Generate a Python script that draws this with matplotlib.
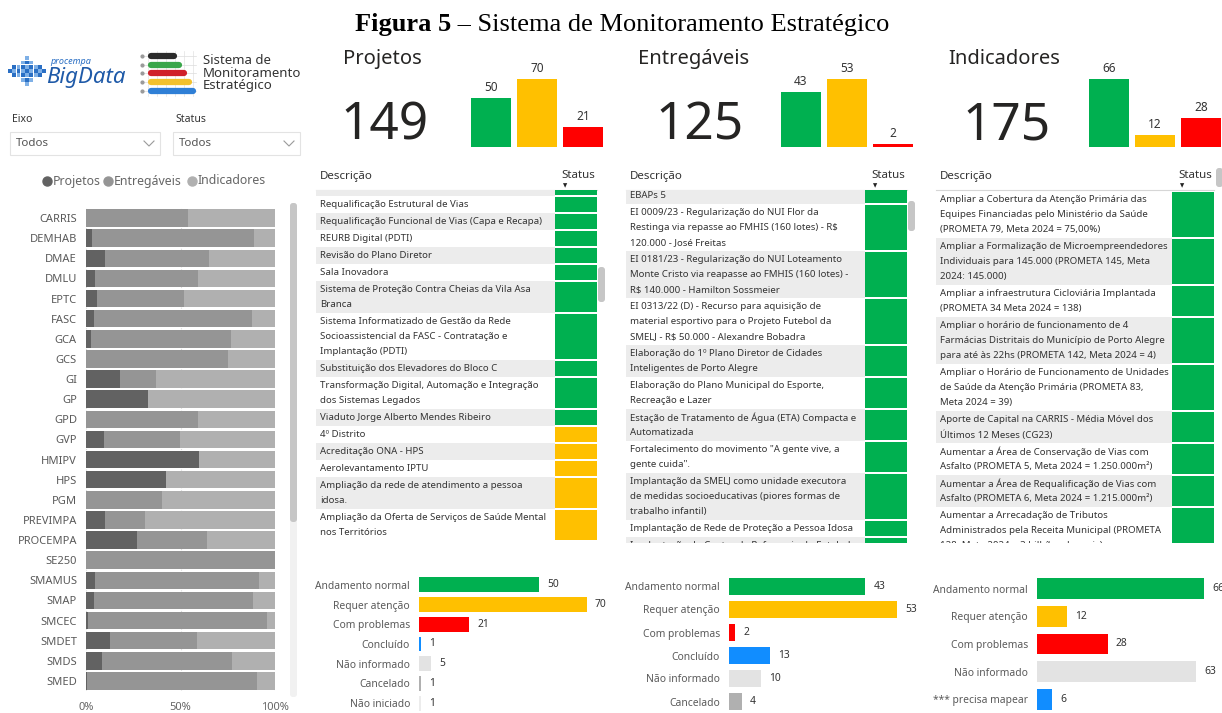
import matplotlib.pyplot as plt
from matplotlib.patches import Rectangle, FancyBboxPatch

plt.rcParams["font.family"] = ["Noto Sans", "DejaVu Sans"]

W, H = 1222, 713

GREEN = "#00b050"
YELLOW = "#ffc000"
RED = "#ff0000"
BLUE = "#118dff"
TXT = "#333333"
LBL = "#5a5a5a"

# ---- data -----------------------------------------------------------------
orgaos = ["CARRIS", "DEMHAB", "DMAE", "DMLU", "EPTC", "FASC", "GCA", "GCS",
          "GI", "GP", "GPD", "GVP", "HMIPV", "HPS", "PGM", "PREVIMPA",
          "PROCEMPA", "SE250", "SMAMUS", "SMAP", "SMCEC", "SMDET", "SMDS",
          "SMED"]
pct_projetos = [0, 3, 10, 5, 6, 4, 2.5, 0, 18, 33, 0, 9.5, 60, 42.5, 0, 10,
                27, 0, 4.6, 4.2, 1.2, 12.5, 8.3, 0.7]
pct_entregaveis = [54, 86, 55, 54, 46, 84, 74, 75, 19, 0, 59, 40, 0, 0, 40,
                   21, 37, 100, 87, 84, 94.6, 46, 69, 89.6]
pct_indicadores = [46, 11, 35, 41, 48, 12, 23.5, 25, 63, 67, 41, 50.5, 40,
                   57.5, 60, 69, 36, 0, 8.4, 11.8, 4.2, 41.5, 22.7, 9.7]

kpi_titles = ["Projetos", "Entregáveis", "Indicadores"]
kpi_totals = [149, 125, 175]
kpi_proj = [50, 70, 21]
kpi_entr = [43, 53, 2]
kpi_ind = [66, 12, 28]

st_proj_labels = ["Andamento normal", "Requer atenção", "Com problemas",
                  "Concluído", "Não informado", "Cancelado", "Não iniciado"]
st_proj_values = [50, 70, 21, 1, 5, 1, 1]
st_entr_labels = ["Andamento normal", "Requer atenção", "Com problemas",
                  "Concluído", "Não informado", "Cancelado"]
st_entr_values = [43, 53, 2, 13, 10, 4]
st_ind_labels = ["Andamento normal", "Requer atenção", "Com problemas",
                 "Não informado", "*** precisa mapear"]
st_ind_values = [66, 12, 28, 63, 6]

status_colors = {"Andamento normal": GREEN, "Requer atenção": YELLOW,
                 "Com problemas": RED, "Concluído": BLUE,
                 "Não informado": "#e3e3e3", "Cancelado": "#b0b0b0",
                 "Não iniciado": "#ececec", "*** precisa mapear": BLUE}

proj_desc = [
    "",
    "Requalificação Estrutural de Vias",
    "Requalificação Funcional de Vias (Capa e Recapa)",
    "REURB Digital (PDTI)",
    "Revisão do Plano Diretor",
    "Sala Inovadora",
    "Sistema de Proteção Contra Cheias da Vila Asa\nBranca",
    "Sistema Informatizado de Gestão da Rede\nSocioassistencial da FASC - Contratação e\nImplantação (PDTI)",
    "Substituição dos Elevadores do Bloco C",
    "Transformação Digital, Automação e Integração\ndos Sistemas Legados",
    "Viaduto Jorge Alberto Mendes Ribeiro",
    "4º Distrito",
    "Acreditação ONA - HPS",
    "Aerolevantamento IPTU",
    "Ampliação da rede de atendimento a pessoa\nidosa.",
    "Ampliação da Oferta de Serviços de Saúde Mental\nnos Territórios",
]
proj_status = ["g", "g", "g", "g", "g", "g", "g", "g", "g", "g", "g",
               "y", "y", "y", "y", "y"]

entr_desc = [
    "EBAPs 5",
    "EI 0009/23 - Regularização do NUI Flor da\nRestinga via repasse ao FMHIS (160 lotes) - R$\n120.000 - José Freitas",
    "EI 0181/23 - Regularização do NUI Loteamento\nMonte Cristo via reapasse ao FMHIS (160 lotes) -\nR$ 140.000 - Hamilton Sossmeier",
    "EI 0313/22 (D) - Recurso para aquisição de\nmaterial esportivo para o Projeto Futebol da\nSMELJ - R$ 50.000 - Alexandre Bobadra",
    "Elaboração do 1º Plano Diretor de Cidades\nInteligentes de Porto Alegre",
    "Elaboração do Plano Municipal do Esporte,\nRecreação e Lazer",
    "Estação de Tratamento de Água (ETA) Compacta e\nAutomatizada",
    "Fortalecimento do movimento \"A gente vive, a\ngente cuida\".",
    "Implantação da SMELJ como unidade executora\nde medidas socioeducativas (piores formas de\ntrabalho infantil)",
    "Implantação de Rede de Proteção a Pessoa Idosa",
    "Implantação do Centro de Referencia do Futebol",
]
entr_status = ["g"] * 11

ind_desc = [
    "Ampliar a Cobertura da Atenção Primária das\nEquipes Financiadas pelo Ministério da Saúde\n(PROMETA 79, Meta 2024 = 75,00%)",
    "Ampliar a Formalização de Microempreendedores\nIndividuais para 145.000 (PROMETA 145, Meta\n2024: 145.000)",
    "Ampliar a infraestrutura Cicloviária Implantada\n(PROMETA 34 Meta 2024 = 138)",
    "Ampliar o horário de funcionamento de 4\nFarmácias Distritais do Município de Porto Alegre\npara até às 22hs (PROMETA 142, Meta 2024 = 4)",
    "Ampliar o Horário de Funcionamento de Unidades\nde Saúde da Atenção Primária (PROMETA 83,\nMeta 2024 = 39)",
    "Aporte de Capital na CARRIS - Média Móvel dos\nÚltimos 12 Meses (CG23)",
    "Aumentar a Área de Conservação de Vias com\nAsfalto (PROMETA 5, Meta 2024 = 1.250.000m²)",
    "Aumentar a Área de Requalificação de Vias com\nAsfalto (PROMETA 6, Meta 2024 = 1.215.000m²)",
    "Aumentar a Arrecadação de Tributos\nAdministrados pela Receita Municipal (PROMETA\n128, Meta 2024 = 3 bilhões de reais)",
]
ind_status = ["g"] * 9

# ---- figure ---------------------------------------------------------------
fig = plt.figure(figsize=(W / 100, H / 100), dpi=100)
fig.patch.set_facecolor("white")
canvas = fig.add_axes([0, 0, 1, 1])
canvas.set_xlim(0, W)
canvas.set_ylim(H, 0)
canvas.axis("off")


def px_axes(x0, y0, x1, y1):
    return fig.add_axes([x0 / W, 1 - y1 / H, (x1 - x0) / W, (y1 - y0) / H])


def rbox(x0, y0, x1, y1, color, r=3):
    canvas.add_patch(FancyBboxPatch((x0, y0), x1 - x0, y1 - y0,
                                    boxstyle=f"round,pad=0,rounding_size={r}",
                                    fc=color, ec="none"))


# title
t1 = canvas.text(355, 31, "Figura 5", fontfamily="Liberation Serif",
                 fontweight="bold", fontsize=19, va="baseline", color="black")
canvas.annotate(" – Sistema de Monitoramento Estratégico", xy=(1, 0),
                xycoords=t1, va="bottom", ha="left",
                fontfamily="Liberation Serif", fontsize=19, color="black")

# logo: dot cluster
for i in range(-4, 5):
    for j in range(-3, 4):
        if abs(i) / 4.5 + abs(j) / 3.5 <= 1.0:
            c = "#2a6fc4" if (i + j) % 2 == 0 else "#7fb0e6"
            canvas.add_patch(Rectangle((27 + i * 4.3 - 1.9, 71 + j * 4.3 - 1.9),
                                       3.8, 3.8, fc=c, ec="none"))
canvas.text(50, 61, "procempa", fontsize=6.5, fontstyle="italic",
            fontweight="bold", color="#2a6fc4", va="center")
canvas.text(46, 77, "BigData", fontsize=16, fontstyle="italic",
            fontweight="bold", color="#1f5aa8", va="center")

# logo: stripes icon
for gx in [148, 157, 166, 175, 184, 193]:
    canvas.plot([gx, gx], [51, 96], color="#e2e2e2", lw=0.5)
stripe_y = [56, 65, 73, 82, 91]
stripe_end = [174, 179, 184, 189, 193]
stripe_col = ["#2b2b2b", "#3aa64a", "#d0202a", "#f2c12e", "#2f7fd6"]
for yy, xe, c in zip(stripe_y, stripe_end, stripe_col):
    canvas.plot([142, 196], [yy, yy], color="#dcdcdc", lw=0.5)
    canvas.plot([142], [yy], "o", color="#9a9a9a", ms=2)
    canvas.plot([151, xe], [yy, yy], color=c, lw=4.5, solid_capstyle="round")
for k, line in enumerate(["Sistema de", "Monitoramento", "Estratégico"]):
    canvas.text(203, 61 + 12.3 * k, line, fontsize=9.5, color="#333333",
                va="center")

# filters
for x0, x1, lab in [(10, 160, "Eixo"), (173, 300, "Status")]:
    canvas.text(x0 + 2, 119, lab, fontsize=7.5, color=TXT, va="center")
    canvas.add_patch(Rectangle((x0, 132), x1 - x0, 23, fc="white",
                               ec="#e3e3e3", lw=0.8))
    canvas.text(x0 + 6, 144, "Todos", fontsize=8.3, color="#555555",
                va="center")
    canvas.plot([x1 - 16, x1 - 11, x1 - 6], [141, 146, 141], color="#9a9a9a",
                lw=0.8)

# legend
for cx, tx, lab, c in [(47, 53, "Projetos", "#626262"),
                       (108, 114, "Entregáveis", "#959595"),
                       (192, 198, "Indicadores", "#b0b0b0")]:
    canvas.plot([cx], [181], "o", color=c, ms=6.5)
    canvas.text(tx, 181, lab, fontsize=8.9, color="#666666", va="center")

# ---- stacked bar chart ----------------------------------------------------
ax = px_axes(86, 208, 275, 691)
yy = range(len(orgaos))
left2 = [p + e for p, e in zip(pct_projetos, pct_entregaveis)]
ax.barh(yy, pct_projetos, height=0.87, color="#626262")
ax.barh(yy, pct_entregaveis, left=pct_projetos, height=0.87, color="#959595")
ax.barh(yy, pct_indicadores, left=left2, height=0.87, color="#b0b0b0")
ax.set_xlim(0, 100)
ax.set_ylim(len(orgaos) - 0.5, -0.5)
ax.set_yticks(list(yy))
ax.set_yticklabels(orgaos, fontsize=8, color=LBL)
ax.set_xticks([0, 50, 100])
ax.set_xticklabels(["0%", "50%", "100%"], fontsize=8, color="#666666")
ax.tick_params(length=0)
ax.tick_params(axis="y", pad=6.5)
ax.tick_params(axis="x", pad=8)
ax.xaxis.grid(True, color="#dddddd", ls=":", lw=0.8)
ax.set_axisbelow(True)
for s in ax.spines.values():
    s.set_visible(False)

rbox(290, 203, 297, 697, "#f1f1f1")
rbox(290, 203, 297, 522, "#c6c6c6")

# ---- KPI headers and mini bars -------------------------------------------
head_x = [343, 638, 948]
num_x = [340, 655, 962]
bar_x = [468, 778, 1086]
for title, total, hx, nx, bx, vals in zip(kpi_titles, kpi_totals, head_x,
                                          num_x, bar_x,
                                          [kpi_proj, kpi_entr, kpi_ind]):
    canvas.text(hx, 59, title, fontsize=14.5, color="#252423", va="center")
    canvas.text(nx, 140, str(total), fontsize=37, color="#252423",
                va="baseline")
    kax = px_axes(bx, 79, bx + 138, 147)
    kax.bar(range(3), vals, width=0.87, color=[GREEN, YELLOW, RED])
    kax.set_xlim(-0.5, 2.5)
    kax.set_ylim(0, max(vals))
    kax.axis("off")
    for i, v in enumerate(vals):
        kax.annotate(str(v), (i, v), xytext=(0, 4), textcoords="offset pixels",
                     ha="center", va="bottom", fontsize=8.5, color=TXT,
                     annotation_clip=False)

# ---- tables ---------------------------------------------------------------
LINE = 15
tables = [
    (proj_desc, proj_status, 316, 555, 597, 179, True),
    (entr_desc, entr_status, 626, 865, 907, 187, True),
    (ind_desc, ind_status, 936, 1172, 1214, 191, False),
]
stat_col = {"g": GREEN, "y": YELLOW, "r": RED}
for desc, stat, x0, sx0, sx1, start, shaded in tables:
    canvas.text(x0 + 4, 176, "Descrição", fontsize=8.3, color=TXT, va="center")
    canvas.text(sx0 + 6, 176, "Status", fontsize=8.3, color=TXT, va="center")
    canvas.text(sx0 + 10, 186, "▼", fontsize=4, color="#222222", ha="center",
                va="center", fontfamily="DejaVu Sans")
    tax = px_axes(x0, 190, sx1, 543)
    tax.set_xlim(x0, sx1)
    tax.set_ylim(543, 190)
    tax.axis("off")
    top = start
    for k, (txt, st) in enumerate(zip(desc, stat)):
        lines = txt.split("\n")
        h = LINE * len(lines) + 2
        grey = (k % 2 == 0) == shaded
        if grey:
            tax.add_patch(Rectangle((x0, top), sx0 - x0, h, fc="#ececec",
                                    ec="none"))
        tax.add_patch(Rectangle((sx0, top + 1), sx1 - sx0, h - 1.5,
                                fc=stat_col[st], ec="none"))
        for li, line in enumerate(lines):
            tax.text(x0 + 4, top + 9 + LINE * li, line, fontsize=6.95,
                     color=TXT, va="center", clip_on=True)
        top += h
    canvas.plot([x0, sx1], [190, 190], color="#d6d6d6", lw=0.8)

rbox(598, 267, 605, 302, "#c6c6c6")
rbox(908, 201, 915, 231, "#c6c6c6")
rbox(1216, 168, 1223, 187, "#c6c6c6")

# ---- status bar charts ----------------------------------------------------
status_axes = [
    (st_proj_labels, st_proj_values, 419, 587),
    (st_entr_labels, st_entr_values, 729, 897),
    (st_ind_labels, st_ind_values, 1037, 1204),
]
for labels, values, x0, x1 in status_axes:
    sax = px_axes(x0, 575, x1, 713)
    pos = range(len(labels))
    sax.barh(pos, values, height=0.75,
             color=[status_colors[l] for l in labels])
    sax.set_xlim(0, max(values))
    sax.set_ylim(len(labels) - 0.5, -0.5)
    sax.set_yticks(list(pos))
    sax.set_yticklabels(labels, fontsize=7.4, color=LBL)
    sax.set_xticks([])
    sax.tick_params(length=0, pad=6.5)
    for s in sax.spines.values():
        s.set_visible(False)
    for p, v in zip(pos, values):
        sax.annotate(str(v), (v, p), xytext=(8, 0), textcoords="offset pixels",
                     ha="left", va="center", fontsize=7.4, color=TXT,
                     annotation_clip=False)

fig.savefig("out.png", dpi=100)
